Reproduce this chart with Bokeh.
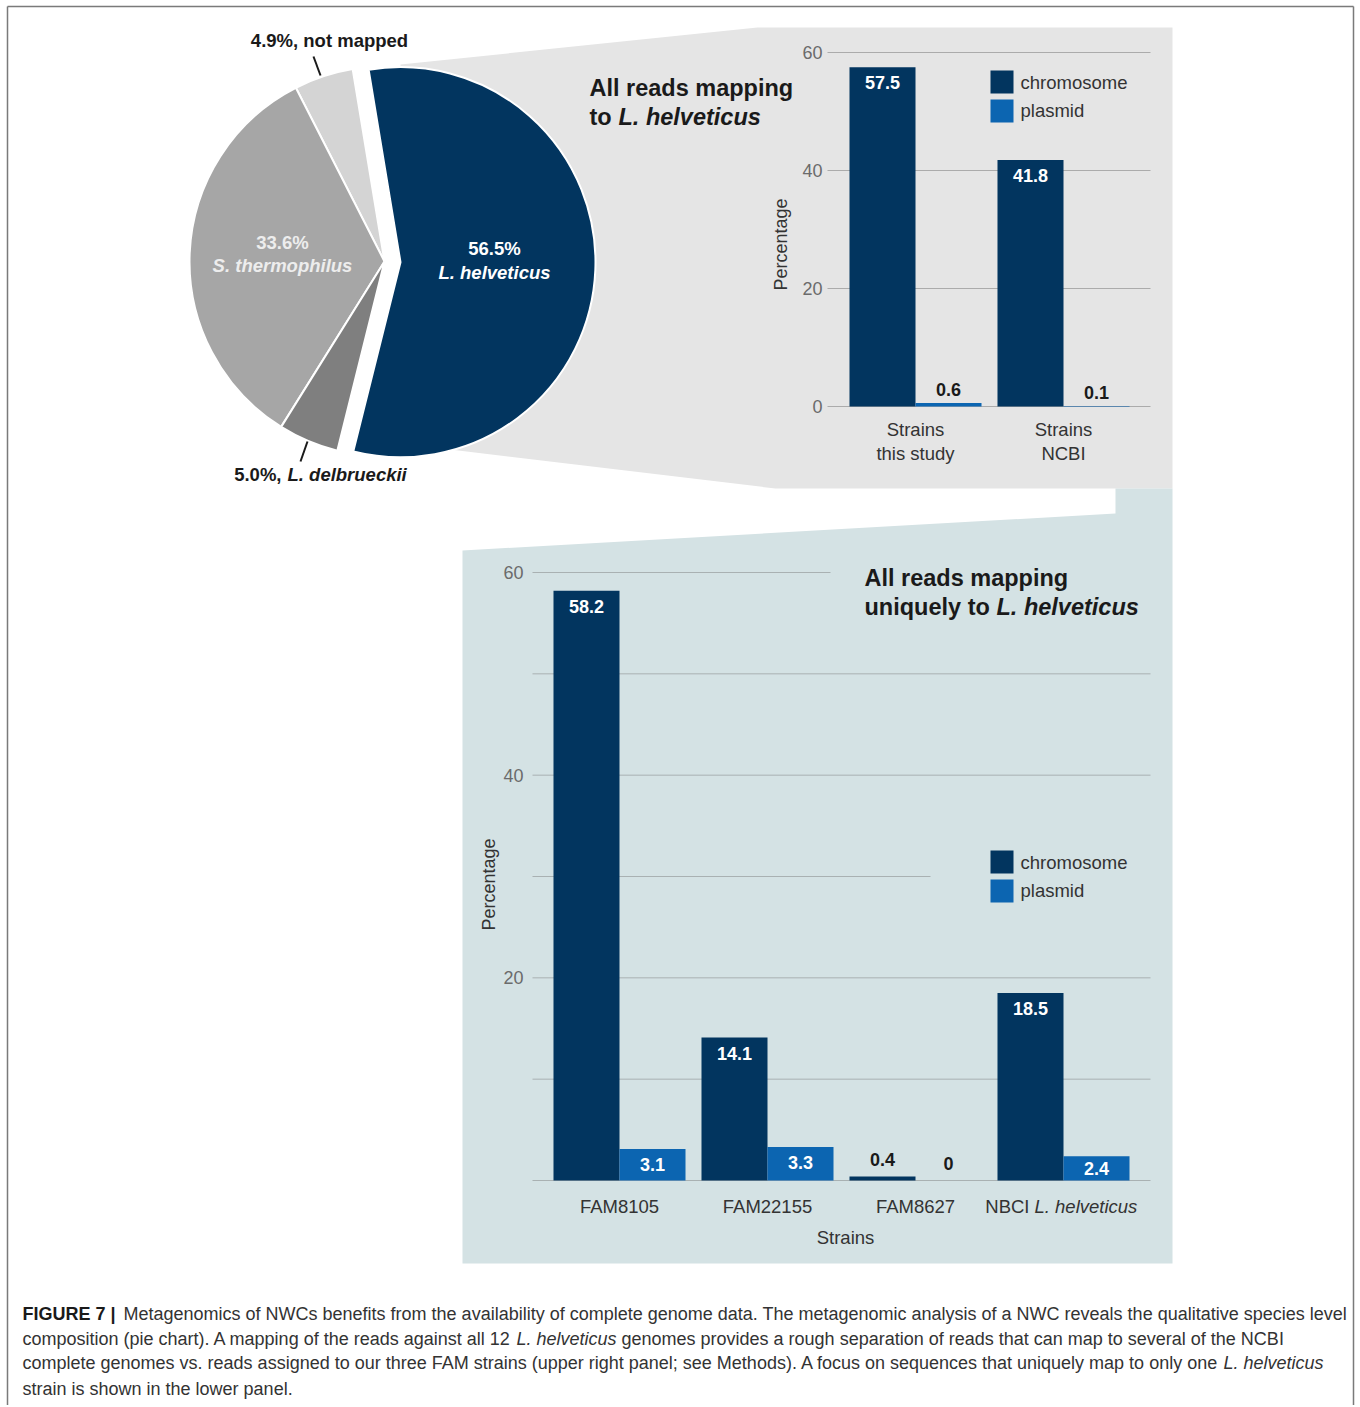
import numpy as np
from bokeh.plotting import figure
from bokeh.models import Range1d, ColumnDataSource
from bokeh.transform import dodge
from bokeh.core.properties import value
from bokeh.embed import file_html
from bokeh.resources import INLINE

# ---------------- data ----------------
pie_names = ["L. helveticus", "not mapped", "S. thermophilus", "L. delbrueckii"]
pie_values = [56.5, 4.9, 33.6, 5.0]

upper_categories = ["Strains\nthis study", "Strains\nNCBI"]
upper_chromosome = [57.5, 41.8]
upper_plasmid = [0.6, 0.1]
upper_ticks = [0, 20, 40, 60]

lower_categories = ["FAM8105", "FAM22155", "FAM8627", "NBCI|L. helveticus"]
lower_chromosome = [58.2, 14.1, 0.4, 18.5]
lower_plasmid = [3.1, 3.3, 0.0, 2.4]
lower_grid = [0, 10, 20, 30, 40, 50, 60]
lower_tick_labels = [20, 40, 60]

series_names = ["chromosome", "plasmid"]

# ---------------- style ----------------
NAVY = "#02355f"
BLUE = "#0c65b1"
PIE_COLORS = [NAVY, "#d4d4d4", "#a6a6a6", "#7f7f7f"]
UPPER_BG = "#e5e5e5"
LOWER_BG = "#d4e2e4"
FONT = value("Liberation Sans")
TXT = "#333333"
TICK = "#6b6b6b"

W, H = 1358, 1405
M = 0


def X(ix):
    return ix - M


def Y(iy):
    return H + M - iy


def lin_range(v0, p0, v1, p1, horizontal):
    k = (v1 - v0) / (p1 - p0)
    f = lambda px: v0 + (px - p0) * k
    if horizontal:
        return Range1d(start=f(M), end=f(M + W))
    return Range1d(start=f(M + H), end=f(M))


p = figure(width=W, height=H, x_range=Range1d(0, W), y_range=Range1d(0, H),
           output_backend="svg", toolbar_location=None, min_border=0,
           x_axis_type=None, y_axis_type=None, outline_line_color=None,
           background_fill_color="white", border_fill_color="white")
p.xgrid.visible = False
p.ygrid.visible = False

p.extra_x_ranges = {"ux": lin_range(0, 915, 1, 1063, True),
                    "lx": lin_range(0, 619, 1, 767, True)}
p.extra_y_ranges = {"uy": lin_range(0, 406, 60, 52, False),
                    "ly": lin_range(0, 1180, 60, 572, False)}
U_PPU = 354 / 60.0
L_PPU = 608 / 60.0


def txt(x, y, s, size=18.5, color=TXT, style="normal", align="left",
        baseline="middle", angle=0.0, xr="default", yr="default"):
    xs = list(x) if isinstance(x, (list, tuple, np.ndarray)) else [x]
    ys = list(y) if isinstance(y, (list, tuple, np.ndarray)) else [y] * len(xs)
    ss = list(s) if isinstance(s, (list, tuple)) else [s] * len(xs)
    if len(ys) == 1 and len(xs) > 1:
        ys = ys * len(xs)
    if len(xs) == 1 and len(ys) > 1:
        xs = xs * len(ys)
    p.text(x=xs, y=ys, text=ss, text_font=FONT, text_font_size=f"{size}px",
           text_font_style=style, text_color=color, text_align=align,
           text_baseline=baseline, angle=angle, x_range_name=xr, y_range_name=yr)


# ---------------- frame border ----------------
p.segment(x0=[X(7), X(7), X(1353)], y0=[0, Y(6), Y(6)],
          x1=[X(7), X(1353), X(1353)], y1=[Y(6), Y(6), 0],
          line_color="#7a7a7a", line_width=1.5)

# ---------------- background callout shapes ----------------
p.patch(x=[X(400), X(757), X(1172), X(1172), X(775), X(400)],
        y=[Y(64), Y(27), Y(27), Y(488), Y(488), Y(443)],
        fill_color=UPPER_BG, line_color=None)
p.patch(x=[X(462), X(1115), X(1115), X(1172), X(1172), X(462)],
        y=[Y(550), Y(513), Y(488), Y(488), Y(1263), Y(1263)],
        fill_color=LOWER_BG, line_color=None)

# ---------------- pie ----------------
vals = np.array(pie_values, dtype=float)
START = -104.0
edges = START + np.concatenate([[0.0], np.cumsum(vals)]) / vals.sum() * 360.0
starts, ends = np.radians(edges[:-1]), np.radians(edges[1:])
mids = (starts + ends) / 2
explode = np.array([16.0, 0, 0, 0])
cx = X(384) + explode * np.cos(mids)
cy = Y(261) + explode * np.sin(mids)
p.wedge(x=cx, y=cy, radius=195, start_angle=starts, end_angle=ends,
        fill_color=PIE_COLORS, line_color="white", line_width=2)

# pie labels
txt(X(494), Y(248), f"{pie_values[0]}%", color="white", style="bold", align="center")
txt(X(494), Y(272), pie_names[0], color="white", style="bold italic", align="center")
txt(X(282), Y(242), f"{pie_values[2]}%", color="#ededed", style="bold", align="center")
txt(X(282), Y(265), pie_names[2], color="#ededed", style="bold italic", align="center")
txt(X(329), Y(40), f"{pie_values[1]}%, {pie_names[1]}", color="#1a1a1a", style="bold", align="center")
txt(X(281), Y(474), f"{pie_values[3]}%,", color="#1a1a1a", style="bold", align="right")
txt(X(287), Y(474), pie_names[3], color="#1a1a1a", style="bold italic", align="left")
p.segment(x0=[X(313), X(307)], y0=[Y(56), Y(441)], x1=[X(320), X(300)], y1=[Y(75), Y(461)],
          line_color="#1a1a1a", line_width=2)

# ---------------- upper bar chart ----------------
p.segment(x0=[X(827)] * len(upper_ticks), x1=[X(1150)] * len(upper_ticks),
          y0=upper_ticks, y1=upper_ticks, line_color="#ababab", line_width=1,
          y_range_name="uy")
txt([X(822)] * len(upper_ticks), upper_ticks, [str(t) for t in upper_ticks],
    size=18, color=TICK, align="right", yr="uy")

usrc = ColumnDataSource(dict(idx=list(range(len(upper_categories))),
                             chrom=upper_chromosome, plas=upper_plasmid))
p.vbar(x=dodge("idx", -0.223, range=p.extra_x_ranges["ux"]), top="chrom", bottom=0,
       width=0.446, source=usrc, fill_color=NAVY, line_color=None,
       x_range_name="ux", y_range_name="uy")
p.vbar(x=dodge("idx", 0.223, range=p.extra_x_ranges["ux"]), top="plas", bottom=0,
       width=0.446, source=usrc, fill_color=BLUE, line_color=None,
       x_range_name="ux", y_range_name="uy")


def value_labels(values, offset, ppu, xr, yr, out_gap):
    for i, v in enumerate(values):
        if v >= 1:
            yy = max(v - 15.5 / ppu, v / 2.0)
            col = "white"
        else:
            yy = v + out_gap / ppu
            col = "#1a1a1a"
        txt(i + offset, yy, f"{v:g}", size=18, color=col, style="bold",
            align="center", xr=xr, yr=yr)


value_labels(upper_chromosome, -0.223, U_PPU, "ux", "uy", 13)
value_labels(upper_plasmid, 0.223, U_PPU, "ux", "uy", 13)

first = [c.split("\n")[0] for c in upper_categories]
second = [c.split("\n")[1] for c in upper_categories]
txt(list(range(len(upper_categories))), Y(429), first, size=18.5, align="center", xr="ux")
txt(list(range(len(upper_categories))), Y(453), second, size=18.5, align="center", xr="ux")
txt(X(780), Y(244), "Percentage", size=18, angle=np.pi / 2, align="center")

# upper legend
p.rect(x=[X(1001.5)] * 2, y=[Y(81.5), Y(110.5)], width=23, height=23,
       fill_color=[NAVY, BLUE], line_color=None)
txt([X(1020)] * 2, [Y(82), Y(110)], series_names, size=18.5, align="left")

# upper title
txt(X(589), Y(87), "All reads mapping", size=23.5, color="#1a1a1a", style="bold")
txt(X(589), Y(116), "to", size=23.5, color="#1a1a1a", style="bold")
txt(X(618), Y(116), "L. helveticus", size=23.5, color="#1a1a1a", style="bold italic")

# ---------------- lower bar chart ----------------
p.segment(x0=[X(532)] * len(lower_grid), x1=[X(1150)] * len(lower_grid),
          y0=lower_grid, y1=lower_grid, line_color="#a9b1b2", line_width=1,
          y_range_name="ly")
# title and legend boxes (hide grid under them)
p.rect(x=[X(995), X(1045)], y=[Y(590), Y(876)], width=[330, 230], height=[70, 72],
       fill_color=LOWER_BG, line_color=None)
txt([X(523)] * len(lower_tick_labels), lower_tick_labels, [str(t) for t in lower_tick_labels],
    size=18, color=TICK, align="right", yr="ly")

lsrc = ColumnDataSource(dict(idx=list(range(len(lower_categories))),
                             chrom=lower_chromosome, plas=lower_plasmid))
p.vbar(x=dodge("idx", -0.223, range=p.extra_x_ranges["lx"]), top="chrom", bottom=0,
       width=0.446, source=lsrc, fill_color=NAVY, line_color=None,
       x_range_name="lx", y_range_name="ly")
p.vbar(x=dodge("idx", 0.223, range=p.extra_x_ranges["lx"]), top="plas", bottom=0,
       width=0.446, source=lsrc, fill_color=BLUE, line_color=None,
       x_range_name="lx", y_range_name="ly")

value_labels(lower_chromosome, -0.223, L_PPU, "lx", "ly", 17)
value_labels(lower_plasmid, 0.223, L_PPU, "lx", "ly", 17)

plain_idx = [i for i, c in enumerate(lower_categories) if "|" not in c]
txt(plain_idx, Y(1206), [lower_categories[i] for i in plain_idx], size=18.5,
    align="center", xr="lx")
for i, c in enumerate(lower_categories):
    if "|" in c:
        a, b = c.split("|")
        p.text(x=[i], y=[Y(1206)], text=[a], text_font=FONT, text_font_size="18.5px",
               text_color=TXT, text_align="right", text_baseline="middle",
               x_offset=-34, x_range_name="lx")
        p.text(x=[i], y=[Y(1206)], text=[b], text_font=FONT, text_font_size="18.5px",
               text_font_style="italic", text_color=TXT, text_align="left",
               text_baseline="middle", x_offset=-29, x_range_name="lx")
txt(X(845), Y(1237), "Strains", size=18.5, align="center")
txt(X(488), Y(884), "Percentage", size=18, angle=np.pi / 2, align="center")

# lower legend
p.rect(x=[X(1001.5)] * 2, y=[Y(861.5), Y(890.5)], width=23, height=23,
       fill_color=[NAVY, BLUE], line_color=None)
txt([X(1020)] * 2, [Y(862), Y(890)], series_names, size=18.5, align="left")

# lower title
txt(X(864), Y(577), "All reads mapping", size=23.5, color="#1a1a1a", style="bold")
txt(X(864), Y(606), "uniquely to", size=23.5, color="#1a1a1a", style="bold")
txt(X(996), Y(606), "L. helveticus", size=23.5, color="#1a1a1a", style="bold italic")

# ---------------- caption ----------------
CAP = "#333333"
cs = 18
txt(X(22), Y(1313), "FIGURE 7 |", size=cs, color="#1a1a1a", style="bold")
txt(X(123), Y(1313), "Metagenomics of NWCs benefits from the availability of complete genome data. "
    "The metagenomic analysis of a NWC reveals the qualitative species level", size=cs, color=CAP)
txt(X(22), Y(1338), "composition (pie chart). A mapping of the reads against all 12", size=cs, color=CAP)
txt(X(516), Y(1338), "L. helveticus", size=cs, color=CAP, style="italic")
txt(X(621), Y(1338), "genomes provides a rough separation of reads that can map to several of the NCBI",
    size=cs, color=CAP)
txt(X(22), Y(1362), "complete genomes vs. reads assigned to our three FAM strains (upper right panel; "
    "see Methods). A focus on sequences that uniquely map to only one", size=cs, color=CAP)
txt(X(1223), Y(1362), "L. helveticus", size=cs, color=CAP, style="italic")
txt(X(22), Y(1388), "strain is shown in the lower panel.", size=cs, color=CAP)

open("out.html", "w").write(file_html(p, INLINE))
